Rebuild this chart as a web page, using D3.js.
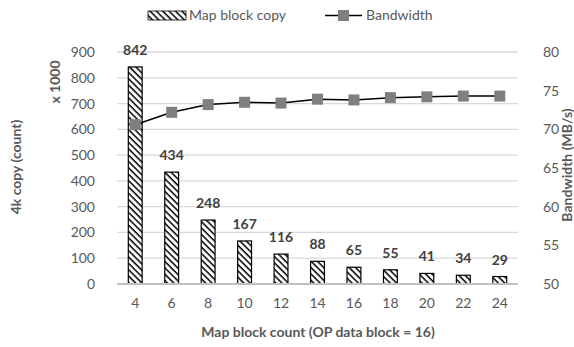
<!DOCTYPE html>
<html><head><meta charset="utf-8">
<script src="https://cdn.jsdelivr.net/npm/d3@7"></script>
<style>
body{margin:0;background:#fff;}
text{font-family:Lato,"Open Sans",sans-serif;}
</style></head>
<body><svg id="chart" width="574" height="347"></svg>
<script>
const categories = ["4","6","8","10","12","14","16","18","20","22","24"];
const copyCounts = [842,434,248,167,116,88,65,55,41,34,29];
const bandwidth = [70.6,72.2,73.2,73.5,73.4,73.9,73.8,74.1,74.2,74.3,74.3];
const leftTicks = [0,100,200,300,400,500,600,700,800,900];
const rightTicks = [50,55,60,65,70,75,80];

const svg = d3.select("#chart");
const m = {left:117, right:518, top:52, bottom:284};
const FS = 14;

const defs = svg.append("defs");
const pat = defs.append("pattern").attr("id","hatch").attr("patternUnits","userSpaceOnUse")
  .attr("width",4.5).attr("height",4.5).attr("patternTransform","rotate(45)");
pat.append("rect").attr("width",4.5).attr("height",4.5).attr("fill","#fff");
pat.append("line").attr("x1",0).attr("y1",0).attr("x2",4.5).attr("y2",0)
  .attr("stroke","#000").attr("stroke-width",3);

const x = d3.scaleBand().domain(categories).range([m.left,m.right]).paddingInner(0.62).paddingOuter(0.31);
const xc = d => x(d) + x.bandwidth()/2;
const yL = d3.scaleLinear().domain([0,900]).range([m.bottom,m.top]);
const yR = d3.scaleLinear().domain([50,80]).range([m.bottom,m.top]);

svg.append("g").selectAll("line").data(leftTicks.filter(t=>t>0)).join("line")
  .attr("x1",m.left).attr("x2",m.right).attr("y1",d=>yL(d)).attr("y2",d=>yL(d))
  .attr("stroke","#d9d9d9").attr("stroke-width",1.3);

const gl = svg.append("g").attr("transform",`translate(${m.left},0)`)
  .call(d3.axisLeft(yL).tickValues(leftTicks).tickSize(0).tickPadding(22));
gl.select(".domain").remove();
gl.selectAll("text").attr("font-size",FS).attr("fill","#595959").attr("font-family","Lato");

const gr = svg.append("g").attr("transform",`translate(${m.right},0)`)
  .call(d3.axisRight(yR).tickValues(rightTicks).tickSize(0).tickPadding(25));
gr.select(".domain").remove();
gr.selectAll("text").attr("font-size",FS).attr("fill","#595959").attr("font-family","Lato");

svg.append("g").selectAll("rect").data(copyCounts).join("rect")
  .attr("x",(d,i)=>x(categories[i])).attr("width",x.bandwidth())
  .attr("y",d=>yL(d)).attr("height",d=>yL(0)-yL(d))
  .attr("fill","url(#hatch)").attr("stroke","#000").attr("stroke-width",1.2);

svg.append("line").attr("x1",m.left).attr("x2",m.right).attr("y1",yL(0)).attr("y2",yL(0))
  .attr("stroke","#bfbfbf").attr("stroke-width",2.2);

const gx = svg.append("g").attr("transform",`translate(0,${m.bottom})`)
  .call(d3.axisBottom(x).tickSize(0).tickPadding(14));
gx.select(".domain").remove();
gx.selectAll("text").attr("font-size",FS).attr("fill","#595959").attr("font-family","Lato");

svg.append("g").selectAll("text").data(copyCounts).join("text")
  .attr("x",(d,i)=>xc(categories[i])).attr("y",d=>yL(d)-12)
  .attr("text-anchor","middle").attr("font-size",FS).attr("font-weight","bold")
  .attr("fill","#404040").text(d=>d);

const line = d3.line().x((d,i)=>xc(categories[i])).y(d=>yR(d));
svg.append("path").datum(bandwidth).attr("d",line).attr("fill","none")
  .attr("stroke","#000").attr("stroke-width",1.5);
svg.append("g").selectAll("rect").data(bandwidth).join("rect")
  .attr("x",(d,i)=>xc(categories[i])-5.5).attr("y",d=>yR(d)-5.5)
  .attr("width",11).attr("height",11).attr("fill","#7f7f7f");

svg.append("text").attr("x",318).attr("y",332).attr("dy","0.35em").attr("text-anchor","middle")
  .attr("font-size",FS).attr("font-weight","bold").attr("fill","#595959")
  .text("Map block count (OP data block = 16)");
svg.append("text").attr("transform","translate(16,167) rotate(-90)").attr("dy","0.35em").attr("text-anchor","middle")
  .attr("font-size",FS).attr("font-weight","bold").attr("fill","#595959").text("4k copy (count)");
svg.append("text").attr("transform","translate(55,82) rotate(-90)").attr("dy","0.35em").attr("text-anchor","middle")
  .attr("font-size",FS).attr("font-weight","bold").attr("fill","#595959").text("x 1000");
svg.append("text").attr("transform","translate(567,165) rotate(-90)").attr("dy","0.35em").attr("text-anchor","middle")
  .attr("font-size",FS).attr("font-weight","bold").attr("fill","#595959").text("Bandwidth (MB/s)");

const lg = svg.append("g");
lg.append("rect").attr("x",148).attr("y",11).attr("width",38).attr("height",9)
  .attr("fill","url(#hatch)").attr("stroke","#000").attr("stroke-width",0.8);
lg.append("text").attr("x",189).attr("y",15.5).attr("dy","0.35em").attr("font-size",FS)
  .attr("fill","#595959").text("Map block copy");
lg.append("line").attr("x1",325).attr("x2",362).attr("y1",15.5).attr("y2",15.5)
  .attr("stroke","#000").attr("stroke-width",1.5);
lg.append("rect").attr("x",338).attr("y",10).attr("width",11).attr("height",11).attr("fill","#7f7f7f");
lg.append("text").attr("x",366).attr("y",15.5).attr("dy","0.35em").attr("font-size",FS)
  .attr("fill","#595959").text("Bandwidth");
</script></body></html>
